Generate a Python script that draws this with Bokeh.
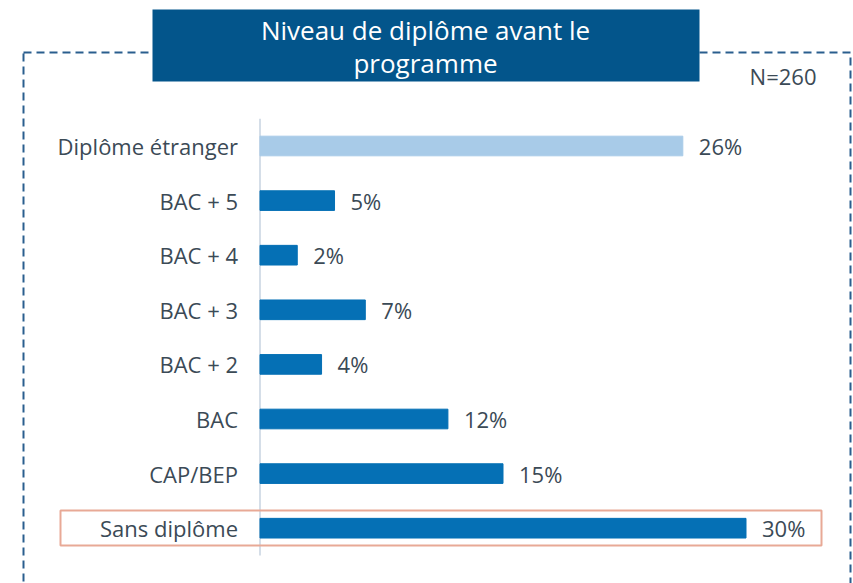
from bokeh.plotting import figure
from bokeh.models import ColumnDataSource, Range1d, BoxAnnotation, Label
from bokeh.core.properties import value
from bokeh.embed import file_html
from bokeh.resources import INLINE

categories = ["Diplôme étranger", "BAC + 5", "BAC + 4", "BAC + 3", "BAC + 2", "BAC", "CAP/BEP", "Sans diplôme"]
shares = [26.1, 4.6, 2.3, 6.5, 3.8, 11.6, 15.0, 30.0]
share_labels = ["26%", "5%", "2%", "7%", "4%", "12%", "15%", "30%"]
bar_colors = ["#A8CBE8", "#0570B5", "#0570B5", "#0570B5", "#0570B5", "#0570B5", "#0570B5", "#0570B5"]
title_lines = ["Niveau de diplôme avant le", "programme"]
sample_note = "N=260"

FONT = "Open Sans"
TEXT_COLOR = "#3B4A56"
W, H = 853, 583

rows = list(range(len(categories)))  # 0 = top row
src = ColumnDataSource(dict(cat=categories, row=rows, val=shares, lab=share_labels, col=bar_colors))

# x: 0% sits at 259.5 px, 16.2 px per point; y: row 0 centred at 145.5 px, 54.6 px per row
x0_px, x_px_per = 259.5, 16.2
y0_px, y_px_per = 145.5, 54.6
x_range = Range1d(-x0_px / x_px_per, (W - x0_px) / x_px_per)
y_range = Range1d((H - y0_px) / y_px_per, -y0_px / y_px_per)

p = figure(width=W, height=H, output_backend="svg", toolbar_location=None,
           x_range=x_range, y_range=y_range,
           min_border=0, min_border_left=0, min_border_right=0, min_border_top=0, min_border_bottom=0)
p.outline_line_color = None
p.background_fill_color = "white"
p.border_fill_color = "white"
p.xgrid.visible = False
p.ygrid.visible = False
p.xaxis.visible = False
p.yaxis.visible = False

# dashed frame around the chart
p.add_layout(BoxAnnotation(left=23, right=850, top=52, bottom=640,
                           left_units="canvas", right_units="canvas",
                           top_units="canvas", bottom_units="canvas",
                           fill_color=None, fill_alpha=0, line_color="#2A5E8E", line_alpha=1.0,
                           line_width=2, line_dash="8 5", level="underlay"))

# title box
p.add_layout(BoxAnnotation(left=152, right=699, top=9, bottom=81,
                           left_units="canvas", right_units="canvas",
                           top_units="canvas", bottom_units="canvas",
                           fill_color="#03558B", fill_alpha=1.0, line_color=None,
                           level="annotation"))
for i, line in enumerate(title_lines):
    p.add_layout(Label(x=425, y=29 + 33 * i, x_units="canvas", y_units="canvas",
                       text=line, text_align="center", text_baseline="middle",
                       text_color="white", text_font=FONT, text_font_size="26px"))

p.add_layout(Label(x=816, y=75, x_units="canvas", y_units="canvas", text=sample_note,
                   text_align="right", text_baseline="middle", text_color=TEXT_COLOR,
                   text_font=FONT, text_font_size="22px"))

# highlight box around "Sans diplôme"
p.add_layout(BoxAnnotation(left=60, right=821, top=510, bottom=545,
                           left_units="canvas", right_units="canvas",
                           top_units="canvas", bottom_units="canvas",
                           fill_color=None, fill_alpha=0, line_color="#E8A996", line_alpha=1.0,
                           line_width=2))

# axis line
p.segment(x0=[0], x1=[0], y0=[rows[0] - 0.5], y1=[rows[-1] + 0.5], line_color="#D5DEE8", line_width=2)

p.hbar(y="row", right="val", left=0, height=0.36, color="col", source=src)
p.text(x="val", y="row", text="lab", source=src, x_offset=16, text_baseline="middle",
       text_align="left", text_color=TEXT_COLOR, text_font=value(FONT), text_font_size="22px")
p.text(x=0, y="row", text="cat", source=src, x_offset=-22, text_baseline="middle",
       text_align="right", text_color=TEXT_COLOR, text_font=value(FONT), text_font_size="22px")

open("out.html", "w").write(file_html(p, INLINE))
